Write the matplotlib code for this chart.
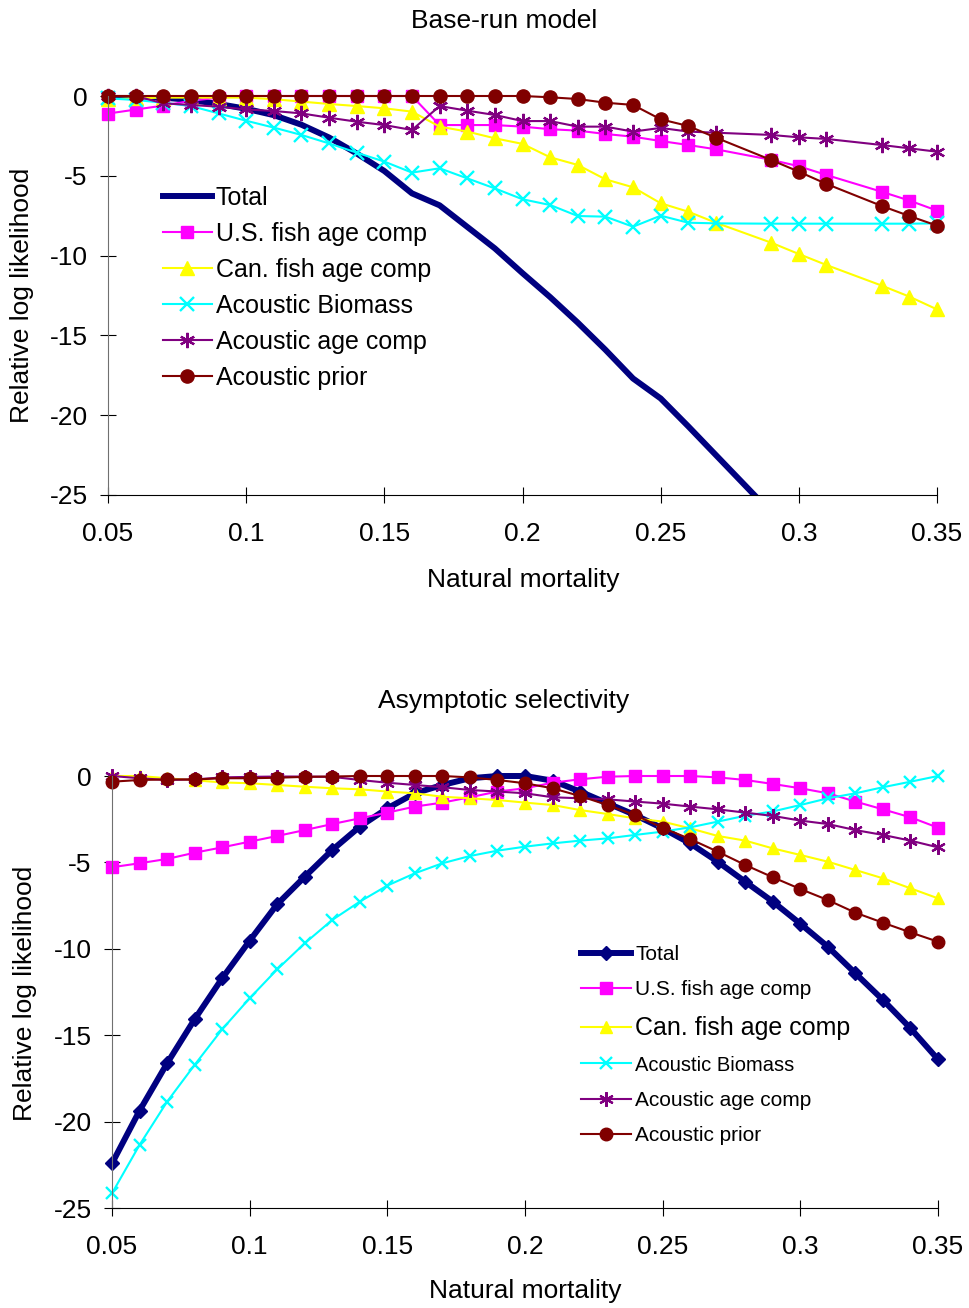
import matplotlib
matplotlib.use("Agg")
import matplotlib.pyplot as plt

plt.rcParams["font.family"] = ["Liberation Sans", "DejaVu Sans"]

# ---- data: top panel (base-run model), no points at 0.28 and 0.32 ----
m_top = [0.05, 0.06, 0.07, 0.08, 0.09, 0.10, 0.11, 0.12, 0.13, 0.14, 0.15,
         0.16, 0.17, 0.18, 0.19, 0.20, 0.21, 0.22, 0.23, 0.24, 0.25, 0.26,
         0.27, 0.29, 0.30, 0.31, 0.33, 0.34, 0.35]
total_top = [0.0, 0.0, -0.1, -0.25, -0.5, -0.8, -1.2, -1.8, -2.6, -3.6, -4.7,
             -6.1, -6.85, -8.2, -9.55, -11.1, -12.6, -14.2, -15.9, -17.7, -18.95, -20.7,
             -22.5, -26.1, -28.2, -30.3, -34.5, -36.7, -39.0]
us_top = [-1.1, -0.85, -0.6, -0.3, -0.1, 0.0, 0.0, 0.0, 0.0, 0.0, 0.0,
          0.0, -1.82, -1.82, -1.82, -1.92, -2.08, -2.17, -2.38, -2.55, -2.82, -3.07,
          -3.34, -4.0, -4.4, -4.95, -6.0, -6.55, -7.18]
can_top = [-0.2, -0.15, -0.1, -0.1, -0.1, -0.1, -0.2, -0.35, -0.5, -0.63, -0.77,
           -0.98, -1.92, -2.23, -2.65, -3.0, -3.84, -4.32, -5.22, -5.72, -6.72, -7.25,
           -7.94, -9.19, -9.9, -10.59, -11.88, -12.57, -13.37]
bio_top = [-0.15, -0.25, -0.42, -0.63, -1.09, -1.55, -1.98, -2.44, -2.97, -3.55, -4.11,
           -4.8, -4.53, -5.16, -5.79, -6.47, -6.83, -7.52, -7.56, -8.19, -7.5, -7.94,
           -7.98, -8.0, -8.0, -8.0, -8.0, -8.0, -7.98]
agec_top = [0.0, 0.0, -0.46, -0.56, -0.67, -0.84, -0.94, -1.09, -1.36, -1.61, -1.82,
            -2.13, -0.63, -0.92, -1.19, -1.57, -1.57, -1.92, -1.92, -2.23, -2.0, -2.23,
            -2.3, -2.44, -2.59, -2.69, -3.07, -3.28, -3.49]
prior_top = [0.0, 0.0, 0.0, 0.0, 0.0, 0.0, 0.0, 0.0, 0.0, 0.0, 0.0,
             0.0, 0.0, 0.0, 0.0, 0.0, -0.08, -0.19, -0.42, -0.56, -1.46, -1.88,
             -2.61, -4.01, -4.74, -5.51, -6.89, -7.52, -8.12]

# ---- data: bottom panel (asymptotic selectivity) ----
m_bot = [0.05, 0.06, 0.07, 0.08, 0.09, 0.10, 0.11, 0.12, 0.13, 0.14, 0.15,
         0.16, 0.17, 0.18, 0.19, 0.20, 0.21, 0.22, 0.23, 0.24, 0.25, 0.26,
         0.27, 0.28, 0.29, 0.30, 0.31, 0.32, 0.33, 0.34, 0.35]
total_bot = [-22.42, -19.37, -16.63, -14.08, -11.71, -9.53, -7.42, -5.83, -4.28, -2.93, -1.87,
             -1.0, -0.52, -0.13, 0.0, 0.0, -0.27, -0.9, -1.58, -2.26, -3.03, -3.9,
             -4.96, -6.12, -7.27, -8.55, -9.88, -11.42, -12.96, -14.6, -16.4]
us_bot = [-5.28, -5.05, -4.8, -4.44, -4.13, -3.8, -3.47, -3.13, -2.78, -2.45, -2.12,
          -1.77, -1.54, -1.23, -0.9, -0.71, -0.39, -0.19, -0.04, 0.0, 0.0, 0.0,
          -0.08, -0.23, -0.46, -0.71, -1.0, -1.48, -1.93, -2.39, -2.99]
can_bot = [0.0, 0.0, -0.13, -0.25, -0.37, -0.42, -0.52, -0.62, -0.71, -0.77, -0.9,
           -1.0, -1.2, -1.29, -1.39, -1.54, -1.68, -1.97, -2.2, -2.45, -2.64, -3.03,
           -3.47, -3.74, -4.19, -4.57, -4.96, -5.44, -5.92, -6.5, -7.08]
bio_bot = [-24.15, -21.35, -18.85, -16.72, -14.66, -12.86, -11.19, -9.68, -8.33, -7.27, -6.34,
           -5.63, -5.05, -4.63, -4.32, -4.09, -3.9, -3.74, -3.61, -3.41, -3.22, -2.97,
           -2.64, -2.3, -2.05, -1.68, -1.29, -1.0, -0.65, -0.33, 0.0]
agec_bot = [0.0, -0.13, -0.23, -0.2, -0.08, -0.05, -0.03, -0.03, -0.05, -0.23, -0.39,
            -0.52, -0.65, -0.81, -0.9, -1.0, -1.23, -1.29, -1.35, -1.48, -1.6, -1.77,
            -1.93, -2.12, -2.31, -2.58, -2.78, -3.13, -3.41, -3.74, -4.13]
prior_bot = [-0.33, -0.23, -0.2, -0.2, -0.13, -0.13, -0.1, -0.05, -0.03, 0.0, 0.0,
             0.0, 0.0, -0.08, -0.23, -0.42, -0.71, -1.16, -1.68, -2.26, -3.0, -3.65,
             -4.38, -5.15, -5.86, -6.54, -7.18, -7.91, -8.49, -9.05, -9.59]

labels = ["Total", "U.S. fish age comp", "Can. fish age comp",
          "Acoustic Biomass", "Acoustic age comp", "Acoustic prior"]
xticks = [0.05, 0.1, 0.15, 0.2, 0.25, 0.3, 0.35]
xticklabels = ["0.05", "0.1", "0.15", "0.2", "0.25", "0.3", "0.35"]
yticks = [0, -5, -10, -15, -20, -25]
yticklabels = ["0", "-5", "-10", "-15", "-20", "-25"]

NAVY, MAG, YEL, CYAN, PURP, MAROON = "#000080", "#FF00FF", "#FFFF00", "#00FFFF", "#800080", "#800000"
STAR = (6, 2, 0)

W, H = 969, 1308
fig = plt.figure(figsize=(W / 100, H / 100), dpi=100)


def setup(ax):
    ax.set_xlim(0.05, 0.35)
    ax.set_ylim(-25, 0)
    for s in ("top", "right"):
        ax.spines[s].set_visible(False)
    ax.spines["left"].set_color("#707070")
    ax.spines["bottom"].set_color("black")
    ax.set_xticks(xticks)
    ax.set_xticklabels(xticklabels)
    ax.set_yticks(yticks)
    ax.set_yticklabels(yticklabels)
    ax.tick_params(axis="both", direction="inout", length=11.5, width=0.8,
                   labelsize=19)
    ax.tick_params(axis="x", pad=14)
    ax.tick_params(axis="y", pad=9)


def series(ax, x, ys, total_marker, total_clip, k=1.0):
    total, us, can, bio, agec, prior = ys
    ax.plot(x, total, color=NAVY, lw=4.3, marker=total_marker, ms=7.5,
            clip_on=total_clip, label=labels[0])
    ax.plot(x, us, color=MAG, lw=1.5, marker="s", ms=8.5 * k, clip_on=False, label=labels[1])
    ax.plot(x, can, color=YEL, lw=1.5, marker="^", ms=9.5 * k, clip_on=False, label=labels[2])
    ax.plot(x, bio, color=CYAN, lw=1.5, marker="x", ms=9.5 * k, mew=1.7, clip_on=False,
            label=labels[3])
    ax.plot(x, agec, color=PURP, lw=1.5, marker=STAR, ms=11 * k, mew=1.6, clip_on=False,
            label=labels[4])
    ax.plot(x, prior, color=MAROON, lw=1.5, marker="o", ms=9.5 * k, clip_on=False,
            label=labels[5])


# ---- top panel ----
ax1 = fig.add_axes([108 / W, 1 - 495 / H, (937 - 108) / W, (495 - 96) / H])
setup(ax1)
series(ax1, m_top, [total_top, us_top, can_top, bio_top, agec_top, prior_top],
       None, True)
leg1 = ax1.legend(loc="upper left", bbox_to_anchor=(163 / W, 1 - 186 / H),
                  bbox_transform=fig.transFigure, frameon=False, fontsize=18,
                  handlelength=1.95, handletextpad=0.15, labelspacing=0.48,
                  borderpad=0, borderaxespad=0)
fig.text(504 / W, 1 - 21 / H, "Base-run model", ha="center", va="center", fontsize=19)
fig.text(523 / W, 1 - 580 / H, "Natural mortality", ha="center", va="center", fontsize=19)
fig.text(22 / W, 1 - 295 / H, "Relative log likelihood", ha="center", va="center",
         rotation=90, fontsize=19)

# ---- bottom panel ----
ax2 = fig.add_axes([112 / W, 1 - 1208 / H, (938 - 112) / W, (1208 - 776) / H])
setup(ax2)
series(ax2, m_bot, [total_bot, us_bot, can_bot, bio_bot, agec_bot, prior_bot],
       "D", False, k=0.95)
leg2 = ax2.legend(loc="upper left", bbox_to_anchor=(581 / W, 1 - 945 / H),
                  bbox_transform=fig.transFigure, frameon=False, fontsize=15,
                  handlelength=2.4, handletextpad=0.2, labelspacing=0.78,
                  borderpad=0, borderaxespad=0)
for t in leg2.get_texts():
    if t.get_text().startswith("Can."):
        t.set_fontsize(18)
    elif t.get_text() == "Acoustic Biomass":
        t.set_fontsize(14.5)
fig.text(504 / W, 1 - 701 / H, "Asymptotic selectivity", ha="center", va="center",
         fontsize=19)
fig.text(525 / W, 1 - 1291 / H, "Natural mortality", ha="center", va="center", fontsize=19)
fig.text(25 / W, 1 - 993 / H, "Relative log likelihood", ha="center", va="center",
         rotation=90, fontsize=19)

fig.savefig("out.png", dpi=100)
